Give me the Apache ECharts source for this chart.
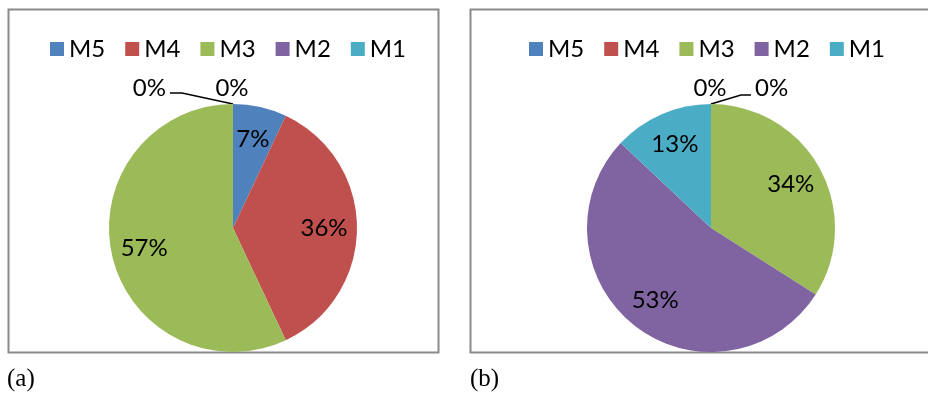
<!DOCTYPE html>
<html>
<head>
<meta charset="utf-8">
<script src="https://cdn.jsdelivr.net/npm/echarts@6/dist/echarts.min.js"></script>
<style>
  html, body { margin: 0; padding: 0; background: #fff; }
  #chart { width: 928px; height: 393px; }
</style>
</head>
<body>
<div id="chart"></div>
<script>
// Category names (legend order) and the share of each category, in percent
const categories = ['M5', 'M4', 'M3', 'M2', 'M1'];
const shareA = [7, 36, 57, 0, 0];
const shareB = [0, 0, 34, 53, 13];
const panelLabels = ['(a)', '(b)'];

// Office-style palette, one colour per category
const palette = ['#4F81BD', '#C0504D', '#9BBB59', '#8064A2', '#4BACC6'];

const R = 124;                 // pie radius, px
const LABEL_R = 176;           // label ring: inside labels sit at LABEL_R / 2
const FONT = 'Lato, "Open Sans", sans-serif';
const FONT_SIZE = 24;

// Per-panel geometry: pie centre, legend origin, frame, and where the
// second zero label goes (side = -1 left, +1 right) with its leader size
const panels = [
  { center: [233, 228], legendLeft: 50, frame: [8.5, 9.5, 430, 343], caption: [7, 367],
    side: -1, leadDx: 51, leadDy: 11, leadH: 12, sideLift: 7 },
  { center: [711, 228], legendLeft: 529, frame: [470.5, 9.5, 480, 343], caption: [470, 367],
    side: 1, leadDx: 30, leadDy: 9, leadH: 10, sideLift: 5 }
];

const chart = echarts.init(document.getElementById('chart'), null, { renderer: 'canvas' });

function buildItems(values) {
  return categories.map((name, i) => ({ name: name, value: values[i] }));
}

// Visible pie; only zero-share slices get an outside label here
function piePlot(values, p, idx) {
  const zeroIdx = values.map((v, i) => (v === 0 ? i : -1)).filter(i => i >= 0);
  return {
    type: 'pie',
    name: 'pie' + idx,
    center: p.center,
    radius: [0, R],
    startAngle: 90,
    clockwise: true,
    avoidLabelOverlap: false,
    silent: true,
    animation: false,
    itemStyle: { borderWidth: 0 },
    data: buildItems(values).map((d, i) => Object.assign(d, {
      itemStyle: { color: palette[i] },
      label: { show: values[i] === 0 },
      labelLine: { show: values[i] === 0 }
    })),
    label: {
      position: 'outside',
      formatter: (q) => q.value + '%',
      color: '#000',
      fontFamily: FONT,
      fontSize: FONT_SIZE
    },
    labelLine: { length: 8, length2: 8, lineStyle: { color: '#000', width: 1.5 } },
    labelLayout: (q) => {
      const ax = p.center[0], ay = p.center[1] - R;
      const order = zeroIdx.indexOf(q.dataIndex);
      // one zero label sits straight above the top of the pie
      const aboveFirst = p.side > 0 ? 0 : zeroIdx.length - 1;
      if (order === aboveFirst) {
        return {
          x: ax - 1, y: ay - 4, align: 'center', verticalAlign: 'bottom',
          labelLinePoints: [[ax, ay], [ax, ay], [ax, ay]]
        };
      }
      // the other one is pushed aside on a short leader line
      const ey = ay - p.leadDy;
      const ex = ax + p.side * (p.leadDx + p.leadH);
      return {
        x: ex + p.side * 4, y: ey + p.sideLift,
        align: p.side < 0 ? 'right' : 'left', verticalAlign: 'bottom',
        labelLinePoints: [[ax, ay], [ax + p.side * p.leadDx, ey], [ex, ey]]
      };
    }
  };
}

// Transparent twin pie that only carries the percentage labels of non-zero slices
function pieLabels(values, p, idx) {
  return {
    type: 'pie',
    name: 'labels' + idx,
    center: p.center,
    radius: [0, LABEL_R],
    startAngle: 90,
    clockwise: true,
    silent: true,
    animation: false,
    z: 5,
    itemStyle: { color: 'rgba(0,0,0,0)', borderWidth: 0 },
    data: buildItems(values).map((d, i) => Object.assign(d, {
      label: { show: values[i] !== 0 }
    })),
    label: {
      position: 'inside',
      formatter: (q) => q.value + '%',
      color: '#000',
      fontFamily: FONT,
      fontSize: FONT_SIZE
    },
    labelLine: { show: false }
  };
}

const option = {
  backgroundColor: '#fff',
  animation: false,
  legend: panels.map(p => ({
    data: categories,
    left: p.legendLeft,
    top: 37,
    padding: 0,
    orient: 'horizontal',
    icon: 'rect',
    itemWidth: 14,
    itemHeight: 14,
    itemGap: 20,
    selectedMode: false,
    textStyle: { color: '#000', fontFamily: FONT, fontSize: FONT_SIZE }
  })),
  title: panels.map((p, i) => ({
    text: panelLabels[i],
    left: p.caption[0],
    top: p.caption[1],
    padding: 0,
    textStyle: { color: '#000', fontFamily: '"Liberation Serif", serif', fontSize: 25, fontWeight: 'normal' }
  })),
  graphic: panels.map(p => ({
    type: 'rect',
    shape: { x: p.frame[0], y: p.frame[1], width: p.frame[2], height: p.frame[3] },
    style: { fill: 'none', stroke: '#8a8a8a', lineWidth: 2 },
    silent: true,
    z: -1
  })),
  series: [
    piePlot(shareA, panels[0], 0),
    piePlot(shareB, panels[1], 1),
    pieLabels(shareA, panels[0], 0),
    pieLabels(shareB, panels[1], 1)
  ]
};

chart.setOption(option);
</script>
</body>
</html>
